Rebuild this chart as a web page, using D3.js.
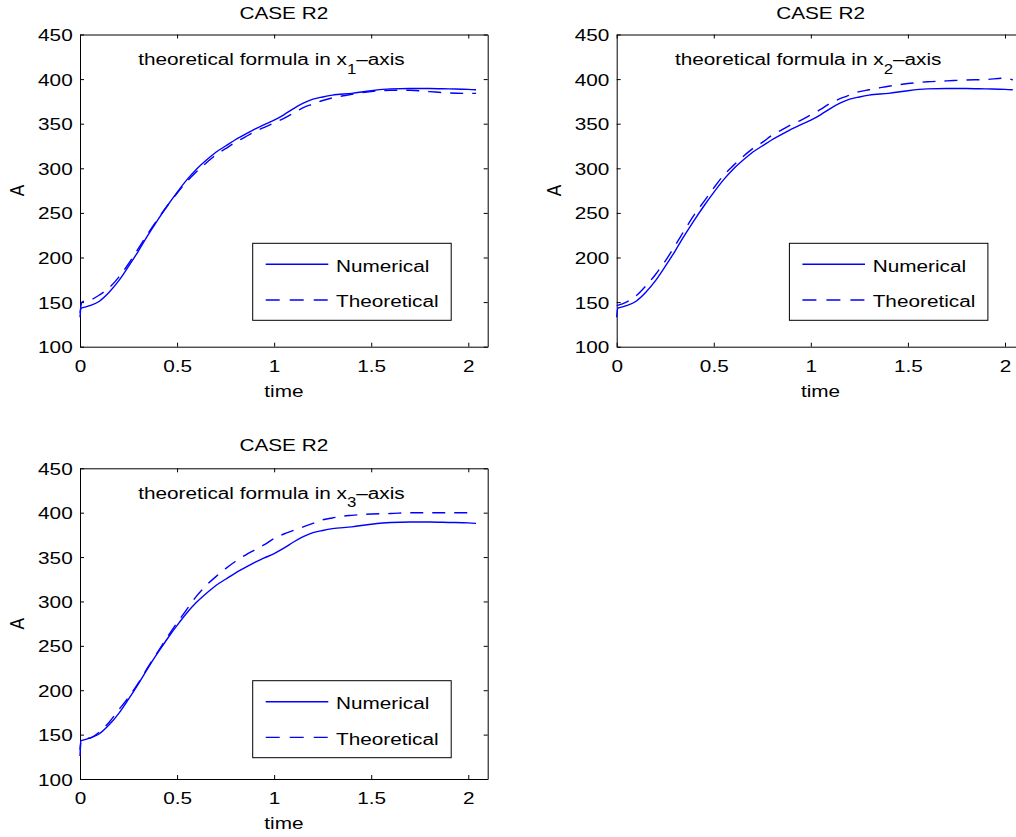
<!DOCTYPE html>
<html>
<head>
<meta charset="utf-8">
<script src="https://cdn.jsdelivr.net/npm/d3@7"></script>
<style>
  body { margin: 0; background: #fff; }
  svg { display: block; background: #fff; }
  text { font-family: 'Liberation Sans', Arial, Helvetica, sans-serif; fill: #000; }
</style>
</head>
<body>
<div id="chart"></div>
<script>
// Numerical solution (same in every panel)
const timeNum = [0, 0.005, 0.02, 0.05, 0.1, 0.15, 0.2, 0.25, 0.3, 0.35, 0.4, 0.45, 0.5, 0.55, 0.6, 0.65, 0.7, 0.75, 0.8, 0.85, 0.9, 0.95, 1.0, 1.05, 1.1, 1.15, 1.2, 1.25, 1.3, 1.4, 1.5, 1.6, 1.7, 1.8, 1.9, 2.0, 2.04];
const numerical = [133, 143, 144, 146, 151, 161, 174, 190, 207, 225, 242, 258, 273, 287, 299, 309, 318, 325, 332, 338, 344, 349, 354, 360, 367, 373, 377.5, 380, 382, 384, 387, 389, 389.5, 389.5, 389, 388.5, 388];

// Theoretical formula, x1-axis
const timeTheo1 = [0, 0.01, 0.06, 0.1, 0.15, 0.2, 0.25, 0.3, 0.35, 0.4, 0.45, 0.5, 0.55, 0.6, 0.65, 0.7, 0.75, 0.8, 0.85, 0.9, 0.95, 1.0, 1.05, 1.1, 1.15, 1.2, 1.25, 1.3, 1.35, 1.4, 1.5, 1.6, 1.7, 1.8, 1.9, 2.0, 2.04];
const theoretical1 = [138, 150, 153, 158, 166, 178, 193, 210, 227, 243, 258, 272, 285, 296, 306, 315, 322, 329, 335, 341, 346, 351, 356, 362, 368, 372, 376, 379, 381, 383, 386, 387.5, 387.5, 386, 384.5, 384, 384];

// Theoretical formula, x2-axis
const timeTheo2 = [0, 0.05, 0.1, 0.15, 0.2, 0.25, 0.3, 0.35, 0.4, 0.45, 0.5, 0.55, 0.6, 0.65, 0.7, 0.75, 0.8, 0.85, 0.9, 0.95, 1.0, 1.05, 1.1, 1.15, 1.2, 1.25, 1.3, 1.35, 1.4, 1.5, 1.6, 1.7, 1.8, 1.9, 2.0, 2.04];
const theoretical2 = [146, 150, 157, 168, 181, 196, 213, 231, 248, 263, 278, 292, 303, 313, 322, 329, 337, 343, 349, 354, 360, 366, 373, 378, 382, 386, 388, 390, 392, 395, 397, 398, 399, 399.5, 401, 399];

// Theoretical formula, x3-axis
const timeTheo3 = [0, 0.005, 0.03, 0.06, 0.1, 0.15, 0.2, 0.25, 0.3, 0.35, 0.4, 0.45, 0.5, 0.55, 0.6, 0.65, 0.7, 0.75, 0.8, 0.85, 0.9, 0.95, 1.0, 1.05, 1.1, 1.15, 1.2, 1.25, 1.3, 1.35, 1.4, 1.5, 1.6, 1.7, 1.8, 1.9, 2.0, 2.04];
const theoretical3 = [126, 142, 145, 147, 153, 164, 178, 192, 208, 226, 243, 260, 276, 291, 306, 318, 328, 337, 345, 352, 358, 364, 371, 376, 380, 384, 388, 392, 394, 396, 397, 398.5, 399, 400, 400, 400, 400, 399];

const xTicks = [0, 0.5, 1, 1.5, 2];
const yTicks = [100, 150, 200, 250, 300, 350, 400, 450];
const xDomain = [0, 2.1];
const yDomain = [100, 450];
const legendLabels = ['Numerical', 'Theoretical'];
const panelTitle = 'CASE R2';
const axisSubscripts = ['1', '2', '3'];

const W = 1016, H = 837;
const SX = 1.2; // glyphs in the picture are stretched sideways
const FONT = 17.3;
const BLUE = '#0000ff';
const DASH = '13,9';

const svg = d3.select('#chart').append('svg').attr('width', W).attr('height', H);

const panels = [
  { left: 80, top: 34.5, width: 407.7, height: 312.2, titleGap: 15.5, legendTop: 208.8, sub: axisSubscripts[0], t: timeTheo1, v: theoretical1 },
  { left: 616.7, top: 34.5, width: 407.7, height: 312.2, titleGap: 15.5, legendTop: 208.8, sub: axisSubscripts[1], t: timeTheo2, v: theoretical2 },
  { left: 80, top: 468.3, width: 407.7, height: 310.7, titleGap: 17.6, legendTop: 212.4, sub: axisSubscripts[2], t: timeTheo3, v: theoretical3 }
];

panels.forEach(drawPanel);

function stretched(g, x, y, str) {
  return g
    .append('text')
    .attr('transform', 'translate(' + x + ',' + y + ') scale(' + SX + ',1)')
    .style('font-size', FONT + 'px')
    .text(str);
}

function drawPanel(p) {
  const x = d3.scaleLinear().domain(xDomain).range([0, p.width]);
  const y = d3.scaleLinear().domain(yDomain).range([p.height, 0]);
  const fmt = d3.format('~g');

  const g = svg
    .append('g')
    .attr('transform', 'translate(' + p.left + ',' + p.top + ')');

  // box with inward ticks on all four sides
  const sides = [
    { axis: d3.axisBottom(x).tickValues(xTicks).tickFormat(fmt), at: [0, p.height], kind: 'x' },
    { axis: d3.axisTop(x).tickValues(xTicks).tickFormat(''), at: [0, 0] },
    { axis: d3.axisLeft(y).tickValues(yTicks).tickFormat(fmt), at: [0, 0], kind: 'y' },
    { axis: d3.axisRight(y).tickValues(yTicks).tickFormat(''), at: [p.width, 0] }
  ];

  sides.forEach(function(s) {
    const a = g
      .append('g')
      .attr('transform', 'translate(' + s.at[0] + ',' + s.at[1] + ')')
      .call(s.axis.tickSizeInner(-4).tickSizeOuter(0))
      .attr('font-size', null)
      .attr('font-family', null);
    a.select('.domain').attr('stroke', '#000').attr('stroke-width', 1);
    a.selectAll('.tick line').attr('stroke', '#000');

    const labels = a.selectAll('.tick text')
      .attr('x', null)
      .attr('y', null)
      .attr('dy', null)
      .style('font-size', FONT + 'px');
    if (s.kind === 'x') {
      labels
        .attr('text-anchor', 'middle')
        .attr('transform', 'translate(0,25) scale(' + SX + ',1)');
    } else if (s.kind === 'y') {
      labels
        .attr('text-anchor', 'end')
        .attr('transform', 'translate(-7.3,6) scale(' + SX + ',1)');
    }
  });

  // curves
  const line = d3.line()
    .curve(d3.curveMonotoneX)
    .x(function(d) { return x(d[0]); })
    .y(function(d) { return y(d[1]); });

  g.append('path')
    .attr('d', line(d3.zip(timeNum, numerical)))
    .attr('fill', 'none')
    .attr('stroke', BLUE)
    .attr('stroke-width', 1.4);

  g.append('path')
    .attr('d', line(d3.zip(p.t, p.v)))
    .attr('fill', 'none')
    .attr('stroke', BLUE)
    .attr('stroke-width', 1.4)
    .attr('stroke-dasharray', DASH);

  // title and axis labels
  stretched(g, p.width / 2, -p.titleGap, panelTitle).attr('text-anchor', 'middle');
  stretched(g, p.width / 2, p.height + 50, 'time').attr('text-anchor', 'middle');
  g.append('text')
    .attr('transform', 'translate(-56,' + p.height / 2 + ') scale(' + SX + ',1) rotate(-90)')
    .attr('text-anchor', 'middle')
    .style('font-size', FONT + 'px')
    .text('A');

  // annotation with subscript
  const note = stretched(g, x(0.3), 30.5, 'theoretical formula in x');
  note.append('tspan')
    .attr('dy', 8.5)
    .style('font-size', '14px')
    .text(p.sub);
  note.append('tspan')
    .attr('dy', -8.5)
    .text('\u2013axis');

  // legend
  const lg = g.append('g')
    .attr('transform', 'translate(172.7,' + p.legendTop + ')');
  lg.append('rect')
    .attr('width', 198.5)
    .attr('height', 77)
    .attr('fill', '#fff')
    .attr('stroke', '#000')
    .attr('stroke-width', 1);

  legendLabels.forEach(function(label, i) {
    const ly = i === 0 ? 21 : 56.7;
    lg.append('line')
      .attr('x1', 13)
      .attr('x2', 75.6)
      .attr('y1', ly)
      .attr('y2', ly)
      .attr('stroke', BLUE)
      .attr('stroke-width', 1.4)
      .attr('stroke-dasharray', i === 0 ? null : '14,10');
    stretched(lg, 83.3, ly + 7.3, label);
  });
}
</script>
</body>
</html>
